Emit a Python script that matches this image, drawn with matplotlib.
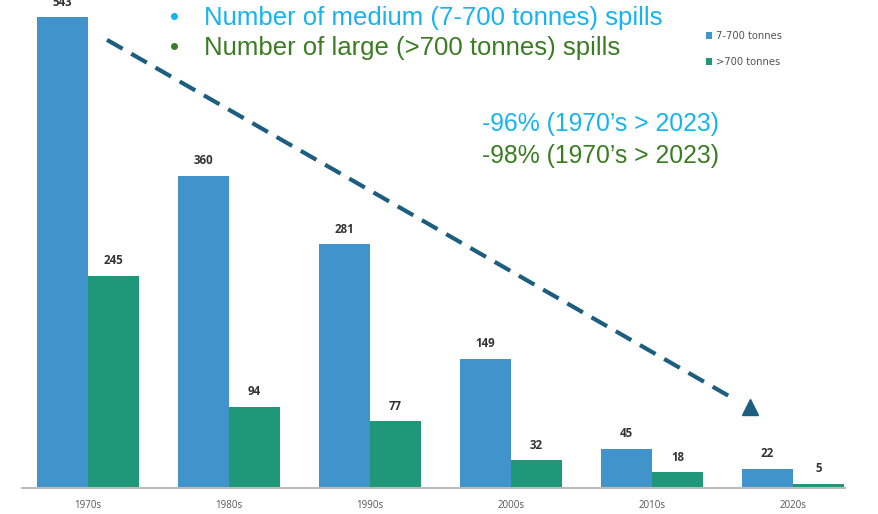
import matplotlib
matplotlib.use('Agg')
import matplotlib.pyplot as plt
import numpy as np

# data
decades = ['1970s', '1980s', '1990s', '2000s', '2010s', '2020s']
medium = [543, 360, 281, 149, 45, 22]
large = [245, 94, 77, 32, 18, 5]

BLUE = '#4193CB'
GREEN = '#1E9878'
ARROW = '#1B5E80'
LIGHTBLUE = '#14B4F0'
DARKGREEN = '#3B7D23'

fig = plt.figure(figsize=(8.79, 5.14), dpi=100)
ax = fig.add_axes([22 / 879, 26 / 514, (845 - 22) / 879, 488 / 514])

x = np.arange(len(decades))
w = 0.362
b1 = ax.bar(x - w / 2, medium, w, color=BLUE, label='7-700 tonnes')
b2 = ax.bar(x + w / 2, large, w, color=GREEN, label='>700 tonnes')

for bars, vals in ((b1, medium), (b2, large)):
    for r, v in zip(bars, vals):
        ax.text(r.get_x() + r.get_width() / 2, v + 10, str(v),
                ha='center', va='bottom', fontsize=8.3, fontweight='bold',
                color='#333333', family='Open Sans')

ax.set_xlim(-0.468, 5.369)
ax.set_ylim(0, 563)
ax.set_xticks(x)
ax.set_xticklabels(decades, fontsize=7, color='#555555', family='Open Sans')
ax.tick_params(axis='x', length=0, pad=9)
ax.set_yticks([])
for s in ['top', 'right', 'left']:
    ax.spines[s].set_visible(False)
ax.spines['bottom'].set_color('#bbbbbb')
ax.spines['bottom'].set_linewidth(1.5)

# dashed trend arrow
ax.plot([0.135, 4.59], [517, 102], color=ARROW, lw=3,
        dashes=(4.3, 2.4), solid_capstyle='butt')
ax.plot([4.695], [93], marker='^', color=ARROW, markersize=11, lw=0)

# legend
leg = ax.legend(loc='upper left', bbox_to_anchor=(0.82, 0.955), frameon=False,
                fontsize=7.2, handlelength=0.6, handleheight=0.6,
                handletextpad=0.4, labelspacing=1.6)
for t in leg.get_texts():
    t.set_color('#555555')

# overlay text
fsize = 18.5
fig.text(170 / 879, 1 - 18 / 514, '\u2022', color=LIGHTBLUE, fontsize=fsize,
         va='center', family='Liberation Sans')
fig.text(204 / 879, 1 - 18 / 514, 'Number of medium (7-700 tonnes) spills',
         color=LIGHTBLUE, fontsize=fsize, va='center', family='Liberation Sans')
fig.text(170 / 879, 1 - 48 / 514, '\u2022', color=DARKGREEN, fontsize=fsize,
         va='center', family='Liberation Sans')
fig.text(204 / 879, 1 - 48 / 514, 'Number of large (>700 tonnes) spills',
         color=DARKGREEN, fontsize=fsize, va='center', family='Liberation Sans')
fig.text(482 / 879, 1 - 124 / 514, '-96% (1970\u2019s > 2023)',
         color=LIGHTBLUE, fontsize=17.8, va='center', family='Liberation Sans')
fig.text(482 / 879, 1 - 156 / 514, '-98% (1970\u2019s > 2023)',
         color=DARKGREEN, fontsize=17.8, va='center', family='Liberation Sans')

fig.savefig('out.png', dpi=100)
